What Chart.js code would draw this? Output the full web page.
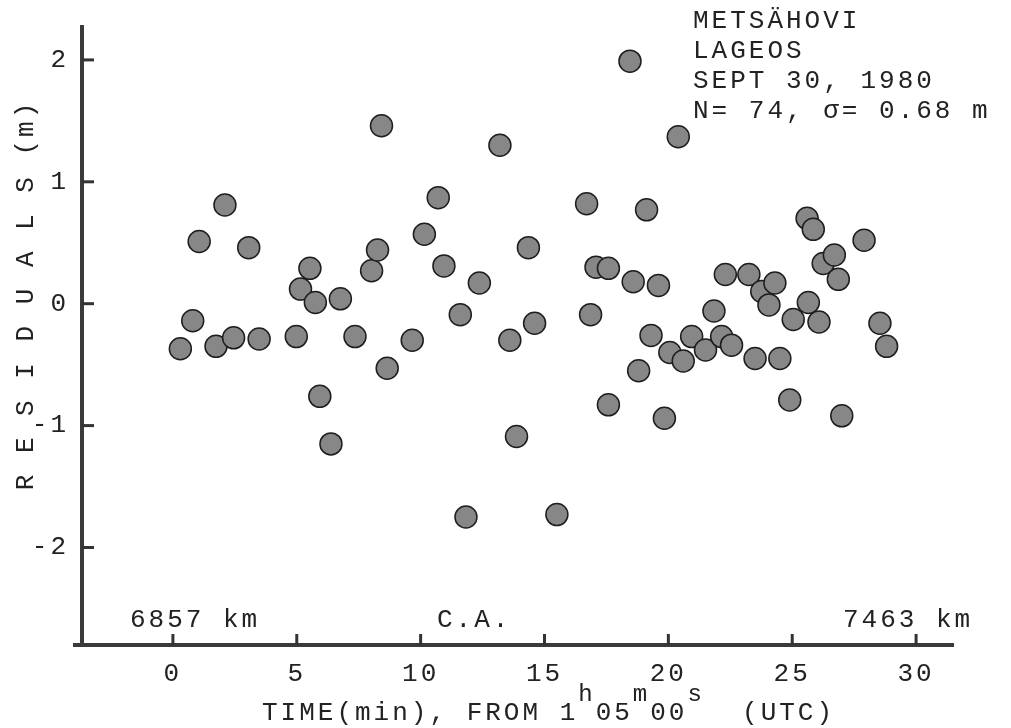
<!DOCTYPE html>
<html>
<head>
<meta charset="utf-8">
<title>Metsähovi LAGEOS residuals</title>
<script src="https://cdn.jsdelivr.net/npm/chart.js@4.4.1/dist/chart.umd.min.js"></script>
<style>
  html, body { margin: 0; padding: 0; background: #fff; }
  canvas { display: block; }
</style>
</head>
<body>
<canvas id="residualChart" width="1011" height="728"></canvas>
<script>
// minutes after 1h05m00s UTC
const times = [0.30, 0.80, 1.06, 1.74, 2.10, 2.45, 3.06, 3.48, 4.98, 5.15, 5.53, 5.75, 5.93, 6.38, 6.76,
    7.35, 8.02, 8.26, 8.42, 8.65, 9.66, 10.15, 10.71, 10.94, 11.60, 11.83, 12.37, 13.20, 13.60, 13.87,
    14.35, 14.60, 15.50, 16.70, 16.86, 17.08, 17.58, 17.58, 18.45, 18.58, 18.80, 19.12, 19.30, 19.60,
    19.84, 20.06, 20.40, 20.60, 20.94, 21.50, 21.84, 22.15, 22.30, 22.55, 23.25, 23.50, 23.77, 24.06,
    24.30, 24.50, 24.90, 25.04, 25.60, 25.65, 25.85, 26.08, 26.25, 26.70, 26.86, 27.00, 27.90, 28.54, 28.81];

// range residuals (m)
const residuals = [-0.37, -0.14, 0.51, -0.35, 0.81, -0.28, 0.46, -0.29, -0.27, 0.12, 0.29, 0.01, -0.76, -1.15, 0.04,
    -0.27, 0.27, 0.44, 1.46, -0.53, -0.30, 0.57, 0.87, 0.31, -0.09, -1.75, 0.17, 1.30, -0.30, -1.09,
    0.46, -0.16, -1.73, 0.82, -0.09, 0.30, 0.29, -0.83, 1.99, 0.18, -0.55, 0.77, -0.26, 0.15,
    -0.94, -0.40, 1.37, -0.47, -0.27, -0.38, -0.06, -0.27, 0.24, -0.34, 0.24, -0.45, 0.10, -0.01,
    0.17, -0.45, -0.79, -0.13, 0.70, 0.01, 0.61, -0.15, 0.33, 0.40, 0.20, -0.92, 0.52, -0.16, -0.35];

const xTicks = [0, 5, 10, 15, 20, 25, 30];
const yTicks = [-2, -1, 0, 1, 2];

const infoLines = ['METSÄHOVI', 'LAGEOS', 'SEPT 30, 1980', 'N= 74, σ= 0.68 m'];
const passLabels = ['6857 km', 'C.A.', '7463 km'];
const yTitle = 'R E S I D U A L S (m)';
// [text, superscript?]
const xTitle = [['TIME(min), FROM 1', false], ['h', true], ['05', false], ['m', true],
    ['00', false], ['s', true], ['  (UTC)', false]];

const FONT = '"Liberation Mono", "DejaVu Sans Mono", monospace';
const INK = '#222';

// typewriter look + ticks pointing into the plot + the free text
const paperText = {
    id: 'paperText',
    beforeDraw(chart) {
        chart.ctx.letterSpacing = '3px';
    },
    afterDraw(chart) {
        const { ctx, chartArea } = chart;
        const x = chart.scales.x, y = chart.scales.y;
        ctx.save();

        // inward tick marks
        ctx.strokeStyle = '#333';
        ctx.lineWidth = 3;
        xTicks.forEach(v => {
            const px = x.getPixelForValue(v);
            ctx.beginPath();
            ctx.moveTo(px, chartArea.bottom);
            ctx.lineTo(px, chartArea.bottom - 11);
            ctx.stroke();
        });
        yTicks.forEach(v => {
            const py = y.getPixelForValue(v);
            ctx.beginPath();
            ctx.moveTo(chartArea.left, py);
            ctx.lineTo(chartArea.left + 12, py);
            ctx.stroke();
        });

        // the time axis runs a little past the residual axis
        ctx.strokeStyle = '#3a3a3a';
        ctx.lineWidth = 4;
        ctx.beginPath();
        ctx.moveTo(chartArea.left - 9, chartArea.bottom);
        ctx.lineTo(chartArea.left, chartArea.bottom);
        ctx.stroke();

        ctx.fillStyle = INK;
        ctx.letterSpacing = '3px';
        ctx.font = '26px ' + FONT;
        ctx.textBaseline = 'alphabetic';
        ctx.textAlign = 'left';

        // station / satellite block
        infoLines.forEach((line, i) => ctx.fillText(line, 693, 28 + i * 30));

        // slant ranges and closest approach
        ctx.fillText(passLabels[0], 130, 627);
        ctx.fillText(passLabels[1], 437, 627);
        ctx.fillText(passLabels[2], 843, 627);

        // x title with superscripts
        let cx = 262;
        xTitle.forEach(([txt, sup]) => {
            ctx.font = (sup ? '24px ' : '26px ') + FONT;
            ctx.fillText(txt, cx, sup ? 701 : 720);
            cx += ctx.measureText(txt).width;
        });

        // y title
        ctx.font = '26px ' + FONT;
        ctx.translate(26, 295);
        ctx.rotate(-Math.PI / 2);
        ctx.textAlign = 'center';
        ctx.textBaseline = 'middle';
        ctx.fillText(yTitle, 0, 0);

        ctx.restore();
    }
};

new Chart(document.getElementById('residualChart'), {
    type: 'scatter',
    data: {
        datasets: [{
            data: times.map((t, i) => ({ x: t, y: residuals[i] })),
            backgroundColor: '#878787',
            borderColor: '#1e1e1e',
            borderWidth: 1.5,
            pointRadius: 11
        }]
    },
    options: {
        responsive: false,
        animation: false,
        layout: { padding: { top: 27, right: 58, left: 0, bottom: 0 } },
        plugins: { legend: { display: false }, tooltip: { enabled: false } },
        scales: {
            x: {
                type: 'linear',
                min: -3.67,
                max: 31.49,
                grid: { display: false },
                border: { display: true, color: '#3a3a3a', width: 4 },
                afterBuildTicks: s => { s.ticks = xTicks.map(v => ({ value: v })); },
                afterFit: s => { s.height = 83; },
                ticks: { color: INK, padding: 6, font: { family: FONT, size: 26 } }
            },
            y: {
                min: -2.8,
                max: 2.27,
                grid: { display: false },
                border: { display: true, color: '#3a3a3a', width: 4 },
                afterBuildTicks: s => { s.ticks = yTicks.map(v => ({ value: v })); },
                afterFit: s => { s.width = 82; },
                ticks: { color: INK, padding: 5, font: { family: FONT, size: 26 } }
            }
        }
    },
    plugins: [paperText]
});
</script>
</body>
</html>
